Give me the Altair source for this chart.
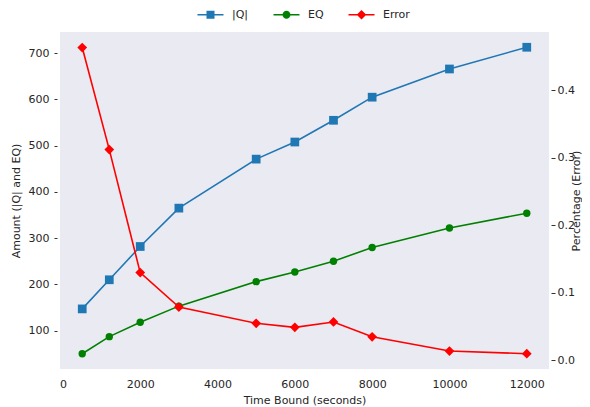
import altair as alt
import pandas as pd

time_bound = [500, 1200, 2000, 3000, 5000, 6000, 7000, 8000, 10000, 12000]
q_vals = [147, 210, 282, 365, 471, 508, 555, 605, 666, 713]
eq_vals = [50, 87, 118, 153, 206, 227, 250, 280, 322, 354]
err_vals = [0.463, 0.312, 0.130, 0.079, 0.055, 0.049, 0.057, 0.035, 0.014, 0.010]

series_names = ["|Q|", "EQ", "Error"]
series_colors = ["#1f77b4", "#008000", "#ff0000"]
x_ticks = [0, 2000, 4000, 6000, 8000, 10000, 12000]
left_ticks = [100, 200, 300, 400, 500, 600, 700]
right_ticks = [0.0, 0.1, 0.2, 0.3, 0.4]

left_df = pd.DataFrame({
    "time": time_bound * 2,
    "value": q_vals + eq_vals,
    "series": ["|Q|"] * len(q_vals) + ["EQ"] * len(eq_vals),
})
err_df = pd.DataFrame({"time": time_bound, "value": err_vals, "series": ["Error"] * len(err_vals)})
legend_df = pd.DataFrame({"time": time_bound[:3], "value": q_vals[:3], "series": series_names})

FONT = "DejaVu Sans"
TXT = "#262626"
FS = 11

# line colour scale (domain in another order so that its hidden legend is not merged with the visible one)
line_color_scale = alt.Scale(domain=series_names[::-1], range=series_colors[::-1])

x_enc = alt.X("time:Q", scale=alt.Scale(domain=[-75, 12575], nice=False, zero=False),
              axis=alt.Axis(values=x_ticks, title="Time Bound (seconds)", grid=False, domain=False,
                            ticks=False, tickSize=0, labelPadding=9, format="d",
                            labelFont=FONT, labelFontSize=FS, labelColor=TXT,
                            titleFont=FONT, titleFontSize=FS, titleColor=TXT, titleFontWeight="normal",
                            titlePadding=5))

y_left = alt.Y("value:Q", scale=alt.Scale(domain=[17, 746], nice=False, zero=False),
               axis=alt.Axis(values=left_ticks, title="Amount (|Q| and EQ)", orient="left", grid=False,
                             domain=False, tickSize=3, tickColor="#333333", offset=3, labelPadding=5,
                             labelFont=FONT, labelFontSize=FS, labelColor=TXT,
                             titleFont=FONT, titleFontSize=FS, titleColor=TXT, titleFontWeight="normal",
                             titlePadding=7))
y_right = alt.Y("value:Q", scale=alt.Scale(domain=[-0.0126, 0.486], nice=False, zero=False),
                axis=alt.Axis(values=right_ticks, title="Percentage (Error)", orient="right", grid=False,
                              domain=False, tickSize=4, tickColor="#333333", offset=2, labelPadding=2,
                              format=".1f", titleAngle=270, titleBaseline="top", titleX=19.5,
                              labelFont=FONT, labelFontSize=FS, labelColor=TXT,
                              titleFont=FONT, titleFontSize=FS, titleColor=TXT, titleFontWeight="normal"))

left_line = alt.Chart(left_df).mark_line(strokeWidth=1.6).encode(
    x=x_enc, y=y_left, color=alt.Color("series:N", scale=line_color_scale, legend=None))
q_pts = alt.Chart(left_df).transform_filter(alt.datum.series == "|Q|").mark_point(
    shape="square", filled=True, size=76, opacity=1, color="#1f77b4").encode(x=x_enc, y=y_left)
eq_pts = alt.Chart(left_df).transform_filter(alt.datum.series == "EQ").mark_point(
    shape="circle", filled=True, size=55, opacity=1, color="#008000").encode(x=x_enc, y=y_left)

legend_paths = [
    "M-3.25,-0.19H3.25V0.19H-3.25Z M-1,-1H1V1H-1Z",
    "M-3.25,-0.19H3.25V0.19H-3.25Z M-1,0A1,1 0 1,1 1,0A1,1 0 1,1 -1,0Z",
    "M-3.25,-0.19H3.25V0.19H-3.25Z M0,-1.2L1.2,0L0,1.2L-1.2,0Z",
]
legend_spec = alt.Legend(title=None, orient="none", direction="horizontal",
                         legendX=145, legendY=-23, symbolSize=64, symbolOpacity=1,
                         symbolStrokeWidth=0, labelOffset=16, columnPadding=24,
                         labelFont=FONT, labelFontSize=FS, labelColor=TXT)
legend_layer = alt.Chart(legend_df).mark_point(filled=True, opacity=0).encode(
    x=x_enc, y=y_left,
    fill=alt.Fill("series:N", scale=alt.Scale(domain=series_names, range=series_colors),
                  legend=legend_spec),
    shape=alt.Shape("series:N", scale=alt.Scale(domain=series_names, range=legend_paths),
                    legend=legend_spec),
)

left = alt.layer(left_line, q_pts, eq_pts, legend_layer)

err_line = alt.Chart(err_df).mark_line(strokeWidth=1.6).encode(
    x=x_enc, y=y_right, color=alt.Color("series:N", scale=line_color_scale, legend=None))
err_pts = alt.Chart(err_df).mark_point(shape="diamond", filled=True, size=95, opacity=1,
                                       color="#ff0000").encode(x=x_enc, y=y_right)
right = alt.layer(err_line, err_pts)

chart = alt.layer(left, right).resolve_scale(y="independent").properties(
    width=489, height=337,
    autosize=alt.AutoSizeParams(type="none"),
    padding={"left": 52, "top": 24, "right": 33, "bottom": 38},
    background="white",
).configure_view(fill="#EAEAF2", stroke=None)

chart.save("out.html", embed_options={"renderer": "svg", "actions": False})
